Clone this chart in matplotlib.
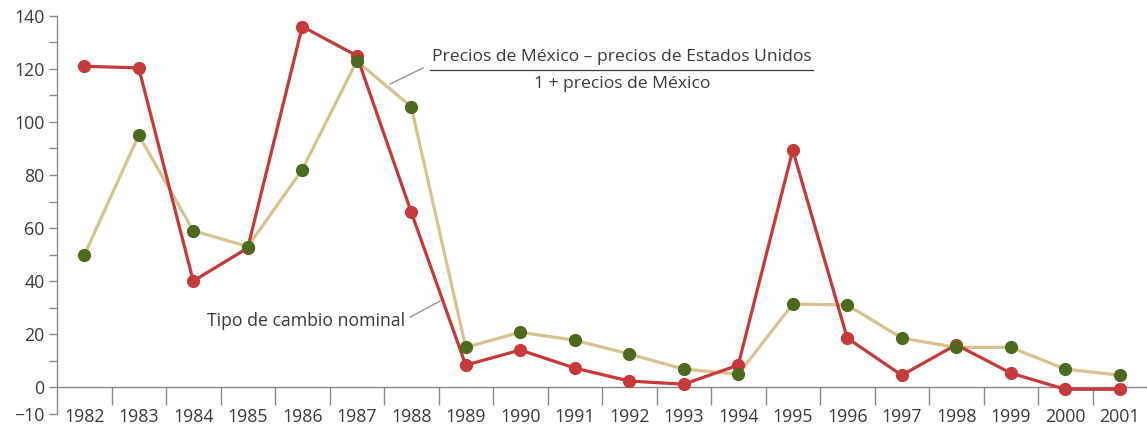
import matplotlib.pyplot as plt
from matplotlib.ticker import FixedLocator, MultipleLocator
import numpy as np

plt.rcParams['font.family'] = ['Open Sans', 'DejaVu Sans']

years = list(range(1982, 2002))
tipo_cambio = [121, 120.4, 40, 52.5, 136, 125, 66, 8.3, 14, 7.2,
               2.3, 1.1, 8.3, 89.4, 18.5, 4.5, 16, 5.3, -0.8, -0.8]
dif_precios = [49.8, 95, 59, 53, 82, 123, 105.7, 15, 20.7, 17.7,
               12.5, 6.8, 4.9, 31.3, 31, 18.5, 15, 15, 6.8, 4.5]
ytick_labels = ['\u221210', '0', '20', '40', '60', '80', '100', '120', '140']

red = '#c8393b'
tan = '#d8c28e'
green = '#4b6a1e'
txt = '#3a3a3a'
gray = '#8a8a8a'

fig = plt.figure(figsize=(11.47, 4.30), dpi=100)
ax = fig.add_axes([0.0497, 0.038, 0.9503, 0.925])

x = np.array(years)
ax.plot(x, tipo_cambio, color=red, lw=2.3, zorder=3)
ax.plot(x, dif_precios, color=tan, lw=2.3, zorder=2)
ax.plot(x, tipo_cambio, 'o', color=red, ms=8.5, zorder=4)
ax.plot(x, dif_precios, 'o', color=green, ms=8.5, zorder=5)

ax.set_xlim(1981.5, 2001.5)
ax.set_ylim(-10, 140)

for s in ['top', 'right']:
    ax.spines[s].set_visible(False)
ax.spines['left'].set_color(gray)
ax.spines['left'].set_linewidth(1)
ax.spines['bottom'].set_position(('data', 0))
ax.spines['bottom'].set_color(gray)
ax.spines['bottom'].set_linewidth(1)

ax.set_xticks(years)
ax.set_xticklabels([str(y) for y in years])
ax.xaxis.set_minor_locator(FixedLocator(np.arange(1982.5, 2001, 1.0)))
ax.tick_params(axis='x', which='major', length=0, pad=15, labelsize=12.8, labelcolor=txt)
ax.tick_params(axis='x', which='minor', length=13, width=1, color=gray, direction='out')

ax.set_yticks([-10, 0, 20, 40, 60, 80, 100, 120, 140])
ax.set_yticklabels(ytick_labels)
ax.yaxis.set_minor_locator(MultipleLocator(10))
ax.tick_params(axis='y', which='both', length=6, width=1, color=gray, labelsize=12.8,
               labelcolor=txt, pad=3)

# annotations
ax.text(1991.87, 124.4, 'Precios de México \u2013 precios de Estados Unidos',
        ha='center', va='center', fontsize=12.6, color=txt)
ax.text(1991.87, 114.2, '1 + precios de México',
        ha='center', va='center', fontsize=12.6, color=txt)
ax.plot([1988.34, 1995.37], [119.6, 119.6], color=txt, lw=0.9)
ax.plot([1987.61, 1988.22], [114.3, 120.4], color=gray, lw=0.9)

ax.text(1987.89, 24.9, 'Tipo de cambio nominal', ha='right', va='center',
        fontsize=12.7, color=txt)
ax.plot([1987.98, 1988.53], [26.4, 32.5], color=gray, lw=0.9)

plt.savefig('out.png', dpi=100)
